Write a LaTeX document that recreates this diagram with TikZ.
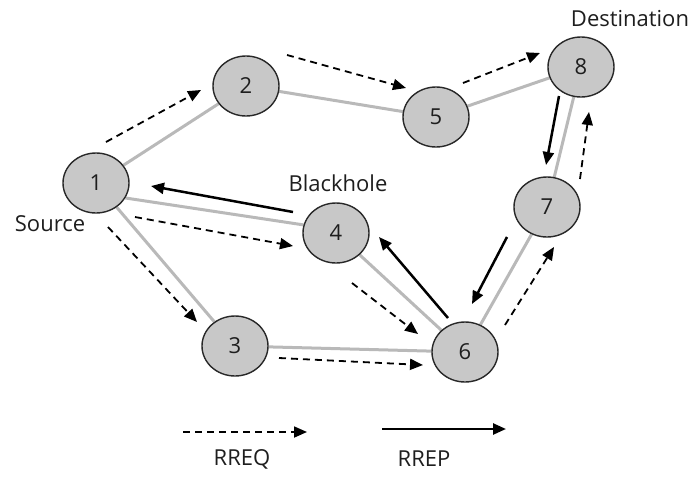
\documentclass[tikz,border=0pt]{standalone}
\usepackage{fontspec}
\setmainfont{Open Sans}
\usetikzlibrary{arrows.meta,shapes.geometric}
\definecolor{nodefill}{RGB}{200,200,200}
\definecolor{edgegray}{RGB}{185,185,185}
\definecolor{outline}{RGB}{40,40,40}
\definecolor{txt}{RGB}{30,30,30}
\tikzset{
  netnode/.style={ellipse,draw=outline,line width=1.4pt,fill=nodefill,
    minimum width=66pt,minimum height=60pt,inner sep=0pt,
    font=\fontsize{22}{26}\selectfont,text=txt},
  link/.style={edgegray,line width=3pt},
  rreq/.style={line width=1.8pt,dash pattern=on 7pt off 5pt,
    -{Triangle[length=13pt,width=11pt]}},
  rrep/.style={line width=2.5pt,-{Triangle[length=13pt,width=11pt]}},
  lbl/.style={font=\fontsize{22}{26}\selectfont,text=txt,inner sep=0pt}
}
\begin{document}
\begin{tikzpicture}[x=1pt,y=-1pt]
\useasboundingbox (0,0) rectangle (694,477);
% node positions
\coordinate (c1) at (96,183);
\coordinate (c2) at (246,86);
\coordinate (c3) at (235,346);
\coordinate (c4) at (336,233);
\coordinate (c5) at (436,117);
\coordinate (c6) at (465,352);
\coordinate (c7) at (547,207);
\coordinate (c8) at (581,67);
% invisible node outlines used for link ends
\foreach \i in {1,...,8}{\node[netnode,draw=none,fill=none] (n\i) at (c\i) {};}
% links
\draw[link] (n1) -- (n2);
\draw[link] (n1.-27) -- (n4.166);
\draw[link] (n1) -- (n3);
\draw[link] (n2) -- (n5);
\draw[link] (n5) -- (n8);
\draw[link] (n8) -- (n7);
\draw[link] (n4) -- (n6);
\draw[link] (n3) -- (n6);
\draw[link] (n6) -- (n7);
% visible nodes
\node[netnode] (v1) at (c1) {1};
\node[netnode] (v2) at (c2) {2};
\node[netnode] (v3) at (c3) {3};
\node[netnode] (v4) at (c4) {4};
\node[netnode] (v5) at (c5) {5};
\node[netnode] (v6) at (c6) {6};
\node[netnode] (v7) at (c7) {7};
\node[netnode] (v8) at (c8) {8};
% labels
\node[lbl] (src) at (50,224) {Source};
\node[lbl] (dst) at (630,19) {Destination};
\node[lbl] (bh) at (338,183) {Blackhole};
% RREQ arrows
\coordinate (q12a) at (106,142); \coordinate (q12b) at (201,90);
\coordinate (q25a) at (287,55);  \coordinate (q25b) at (406,88);
\coordinate (q58a) at (463,83);  \coordinate (q58b) at (540,53);
\coordinate (q14a) at (135,217); \coordinate (q14b) at (293,246);
\coordinate (q13a) at (108,227); \coordinate (q13b) at (197,322);
\coordinate (q36a) at (279,358); \coordinate (q36b) at (423,365);
\coordinate (q46a) at (352,283); \coordinate (q46b) at (418,334);
\coordinate (q67a) at (505,325); \coordinate (q67b) at (554,247);
\coordinate (q78a) at (580,179); \coordinate (q78b) at (589,112);
\draw[rreq] (q12a) -- (q12b);
\draw[rreq] (q25a) -- (q25b);
\draw[rreq] (q58a) -- (q58b);
\draw[rreq] (q14a) -- (q14b);
\draw[rreq] (q13a) -- (q13b);
\draw[rreq] (q36a) -- (q36b);
\draw[rreq] (q46a) -- (q46b);
\draw[rreq] (q67a) -- (q67b);
\draw[rreq] (q78a) -- (q78b);
% RREP arrows
\coordinate (p87a) at (559,96);  \coordinate (p87b) at (546,165);
\coordinate (p76a) at (507,237); \coordinate (p76b) at (472,304);
\coordinate (p64a) at (448,318); \coordinate (p64b) at (379,237);
\coordinate (p41a) at (293,212); \coordinate (p41b) at (151,186);
\draw[rrep] (p87a) -- (p87b);
\draw[rrep] (p76a) -- (p76b);
\draw[rrep] (p64a) -- (p64b);
\draw[rrep] (p41a) -- (p41b);
% legend
\coordinate (lqa) at (183,432); \coordinate (lqb) at (307,432);
\coordinate (lpa) at (382,429); \coordinate (lpb) at (506,429);
\draw[rreq] (lqa) -- (lqb);
\draw[rrep] (lpa) -- (lpb);
\node[lbl] (lq) at (242,459) {RREQ};
\node[lbl] (lp) at (424,459) {RREP};
\end{tikzpicture}
\end{document}
